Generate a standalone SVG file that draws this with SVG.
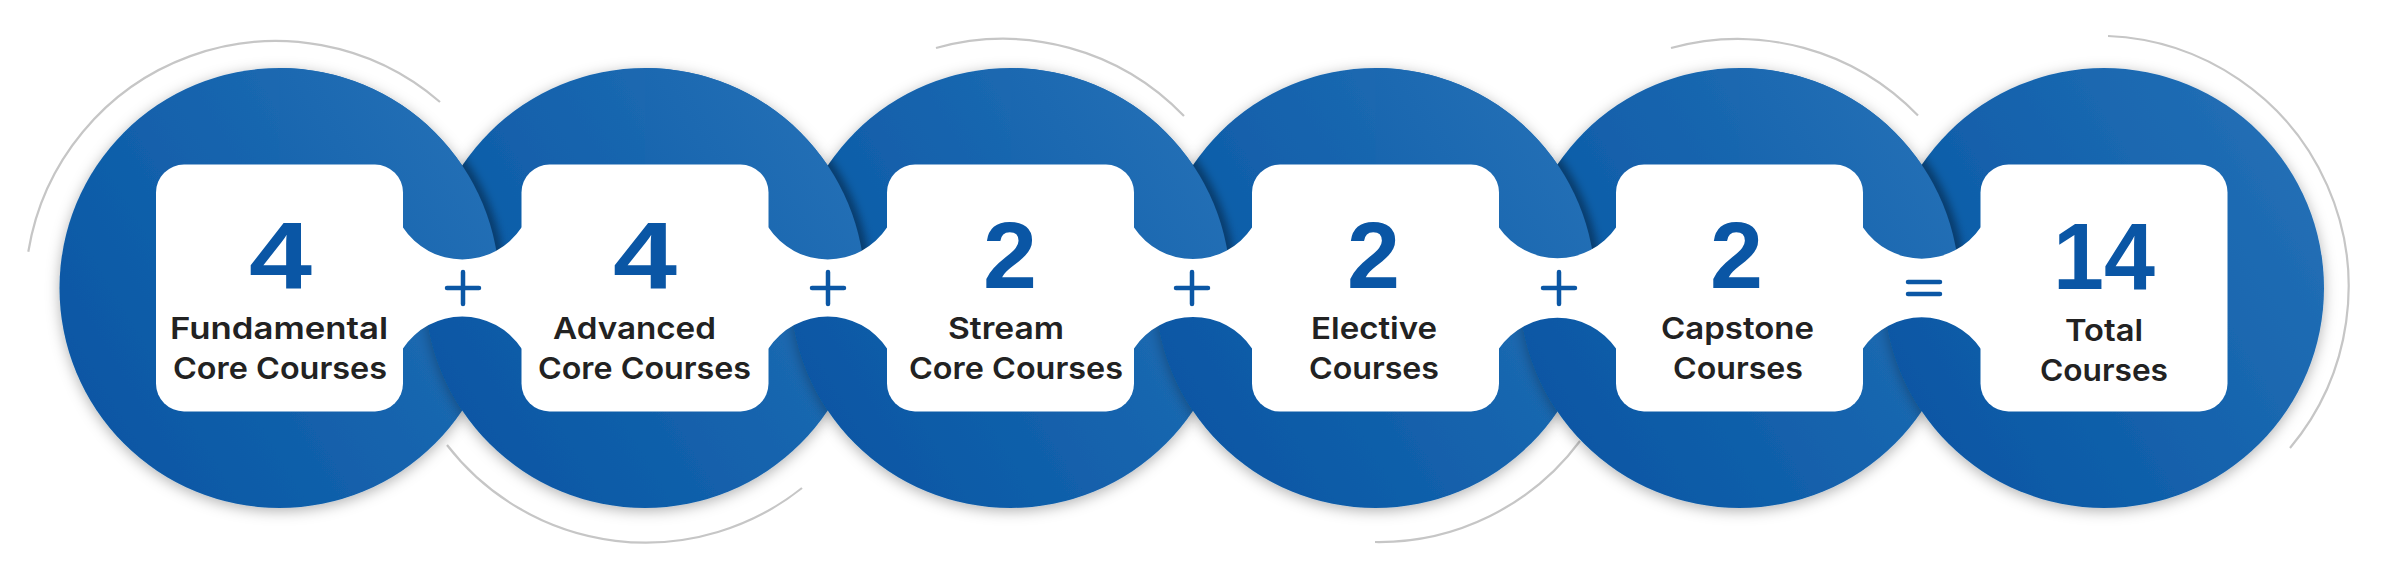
<svg xmlns="http://www.w3.org/2000/svg" width="2406" height="581" viewBox="0 0 2406 581">
<defs>
<linearGradient id="blue" x1="0" y1="0.8" x2="1" y2="0.2">
<stop offset="0" stop-color="#0555a3"/>
<stop offset="1" stop-color="#2470b6"/>
</linearGradient>
<filter id="ds" x="-15%" y="-15%" width="130%" height="130%">
<feDropShadow dx="0" dy="3" stdDeviation="7" flood-color="#000" flood-opacity="0.3"/>
</filter>
<filter id="blur" x="-10%" y="-10%" width="120%" height="120%">
<feGaussianBlur stdDeviation="5"/>
</filter>
<clipPath id="q0"><rect x="279.5" y="0" width="240" height="288"/></clipPath>
<clipPath id="q1"><rect x="645" y="0" width="240" height="288"/></clipPath>
<clipPath id="q2"><rect x="1010.5" y="0" width="240" height="288"/></clipPath>
<clipPath id="q3"><rect x="1375.5" y="0" width="240" height="288"/></clipPath>
<clipPath id="q4"><rect x="1739.5" y="0" width="240" height="288"/></clipPath>
<clipPath id="k1"><circle cx="645" cy="288" r="220"/></clipPath>
<clipPath id="k2"><circle cx="1010.5" cy="288" r="220"/></clipPath>
<clipPath id="k3"><circle cx="1375.5" cy="288" r="220"/></clipPath>
<clipPath id="k4"><circle cx="1739.5" cy="288" r="220"/></clipPath>
<clipPath id="k5"><circle cx="2104" cy="288" r="220"/></clipPath>
<style>
.ring{fill:url(#blue)}
.arc{fill:none;stroke:#c6c6c6;stroke-width:2.2}
.box{fill:#fff}
.num{font-family:"Liberation Sans",Arial,sans-serif;font-weight:700;font-size:95px;fill:#0a56a5;text-anchor:middle}
.lbl{font-family:Inter,"Open Sans",sans-serif;font-weight:600;font-size:30.3px;fill:#222;text-anchor:middle}
.op{stroke:#0b57a5;stroke-width:4.5;stroke-linecap:round;fill:none}
.crease{fill:none;stroke:#000;stroke-width:10;stroke-opacity:0.45}
</style>
</defs>
<rect width="2406" height="581" fill="#fff"/>
<g id="decor-arcs">
<path class="arc" d="M28.3,251.7 A251,251 0 0 1 440,102"/>
<path class="arc" d="M802,488 A251,251 0 0 1 447,445"/>
<path class="arc" d="M936,48 A251,251 0 0 1 1184,116"/>
<path class="arc" d="M1580,441 A251,251 0 0 1 1375,542"/>
<path class="arc" d="M1671,48 A251,251 0 0 1 1918,115.6"/>
<path class="arc" d="M2108,36 A251,251 0 0 1 2290,448"/>
</g>
<g id="rings">
<circle class="ring" cx="279.5" cy="288" r="220" filter="url(#ds)"/>
<circle class="ring" cx="645" cy="288" r="220" filter="url(#ds)"/>
<circle class="ring" cx="1010.5" cy="288" r="220" filter="url(#ds)"/>
<circle class="ring" cx="1375.5" cy="288" r="220" filter="url(#ds)"/>
<circle class="ring" cx="1739.5" cy="288" r="220" filter="url(#ds)"/>
<circle class="ring" cx="2104" cy="288" r="220" filter="url(#ds)"/>
<g clip-path="url(#q0)"><g clip-path="url(#k1)"><circle class="crease" cx="279.5" cy="288" r="220" filter="url(#blur)"/></g></g>
<circle class="ring" cx="279.5" cy="288" r="220" clip-path="url(#q0)"/>
<g clip-path="url(#q1)"><g clip-path="url(#k2)"><circle class="crease" cx="645" cy="288" r="220" filter="url(#blur)"/></g></g>
<circle class="ring" cx="645" cy="288" r="220" clip-path="url(#q1)"/>
<g clip-path="url(#q2)"><g clip-path="url(#k3)"><circle class="crease" cx="1010.5" cy="288" r="220" filter="url(#blur)"/></g></g>
<circle class="ring" cx="1010.5" cy="288" r="220" clip-path="url(#q2)"/>
<g clip-path="url(#q3)"><g clip-path="url(#k4)"><circle class="crease" cx="1375.5" cy="288" r="220" filter="url(#blur)"/></g></g>
<circle class="ring" cx="1375.5" cy="288" r="220" clip-path="url(#q3)"/>
<g clip-path="url(#q4)"><g clip-path="url(#k5)"><circle class="crease" cx="1739.5" cy="288" r="220" filter="url(#blur)"/></g></g>
<circle class="ring" cx="1739.5" cy="288" r="220" clip-path="url(#q4)"/>
</g>
<g id="channels">
<path class="box" d="M399,227.5 H403 A71,71 0 0 0 521.5,227.5 H525.5 V348.5 H521.5 A71,71 0 0 0 403,348.5 H399 Z"/>
<path class="box" d="M764.5,227.5 H768.5 A71,71 0 0 0 887,227.5 H891 V348.5 H887 A71,71 0 0 0 768.5,348.5 H764.5 Z"/>
<path class="box" d="M1130,227.5 H1134 A71,71 0 0 0 1252,227.5 H1256 V348.5 H1252 A71,71 0 0 0 1134,348.5 H1130 Z"/>
<path class="box" d="M1495,227.5 H1499 A71,71 0 0 0 1616,227.5 H1620 V348.5 H1616 A71,71 0 0 0 1499,348.5 H1495 Z"/>
<path class="box" d="M1859,227.5 H1863 A71,71 0 0 0 1980.5,227.5 H1984.5 V348.5 H1980.5 A71,71 0 0 0 1863,348.5 H1859 Z"/>
</g>
<g id="node1">
<rect class="box" x="156" y="164.5" width="247" height="247" rx="28"/>
<text class="num" x="280.5" y="288" textLength="63" lengthAdjust="spacingAndGlyphs">4</text>
<text class="lbl" x="279" y="339" textLength="218" lengthAdjust="spacingAndGlyphs">Fundamental</text>
<text class="lbl" x="280" y="379" textLength="214" lengthAdjust="spacingAndGlyphs">Core Courses</text>
</g>
<g id="node2">
<rect class="box" x="521.5" y="164.5" width="247" height="247" rx="28"/>
<text class="num" x="645" y="288" textLength="64" lengthAdjust="spacingAndGlyphs">4</text>
<text class="lbl" x="634.5" y="339" textLength="163" lengthAdjust="spacingAndGlyphs">Advanced</text>
<text class="lbl" x="644.5" y="379" textLength="213" lengthAdjust="spacingAndGlyphs">Core Courses</text>
</g>
<g id="node3">
<rect class="box" x="887" y="164.5" width="247" height="247" rx="28"/>
<text class="num" x="1010" y="288" textLength="54" lengthAdjust="spacingAndGlyphs">2</text>
<text class="lbl" x="1006" y="339" textLength="116" lengthAdjust="spacingAndGlyphs">Stream</text>
<text class="lbl" x="1016" y="379" textLength="214" lengthAdjust="spacingAndGlyphs">Core Courses</text>
</g>
<g id="node4">
<rect class="box" x="1252" y="164.5" width="247" height="247" rx="28"/>
<text class="num" x="1373.5" y="288" textLength="53" lengthAdjust="spacingAndGlyphs">2</text>
<text class="lbl" x="1374" y="339" textLength="126" lengthAdjust="spacingAndGlyphs">Elective</text>
<text class="lbl" x="1374" y="379" textLength="130" lengthAdjust="spacingAndGlyphs">Courses</text>
</g>
<g id="node5">
<rect class="box" x="1616" y="164.5" width="247" height="247" rx="28"/>
<text class="num" x="1736.5" y="288" textLength="53" lengthAdjust="spacingAndGlyphs">2</text>
<text class="lbl" x="1737.5" y="339" textLength="153" lengthAdjust="spacingAndGlyphs">Capstone</text>
<text class="lbl" x="1738" y="379" textLength="130" lengthAdjust="spacingAndGlyphs">Courses</text>
</g>
<g id="node6">
<rect class="box" x="1980.5" y="164.5" width="247" height="247" rx="28"/>
<text class="num" x="2104" y="289" textLength="102" lengthAdjust="spacingAndGlyphs">14</text>
<text class="lbl" x="2104" y="341" textLength="78" lengthAdjust="spacingAndGlyphs">Total</text>
<text class="lbl" x="2104" y="381" textLength="128" lengthAdjust="spacingAndGlyphs">Courses</text>
</g>
<g id="connectors">
<path class="op" d="M447,288 H479 M463,272 V304"/>
<path class="op" d="M812,288 H844 M828,272 V304"/>
<path class="op" d="M1176,288 H1208 M1192,272 V304"/>
<path class="op" d="M1543,288 H1575 M1559,272 V304"/>
<path class="op" d="M1908,282 H1940 M1908,294 H1940"/>
</g>
</svg>
